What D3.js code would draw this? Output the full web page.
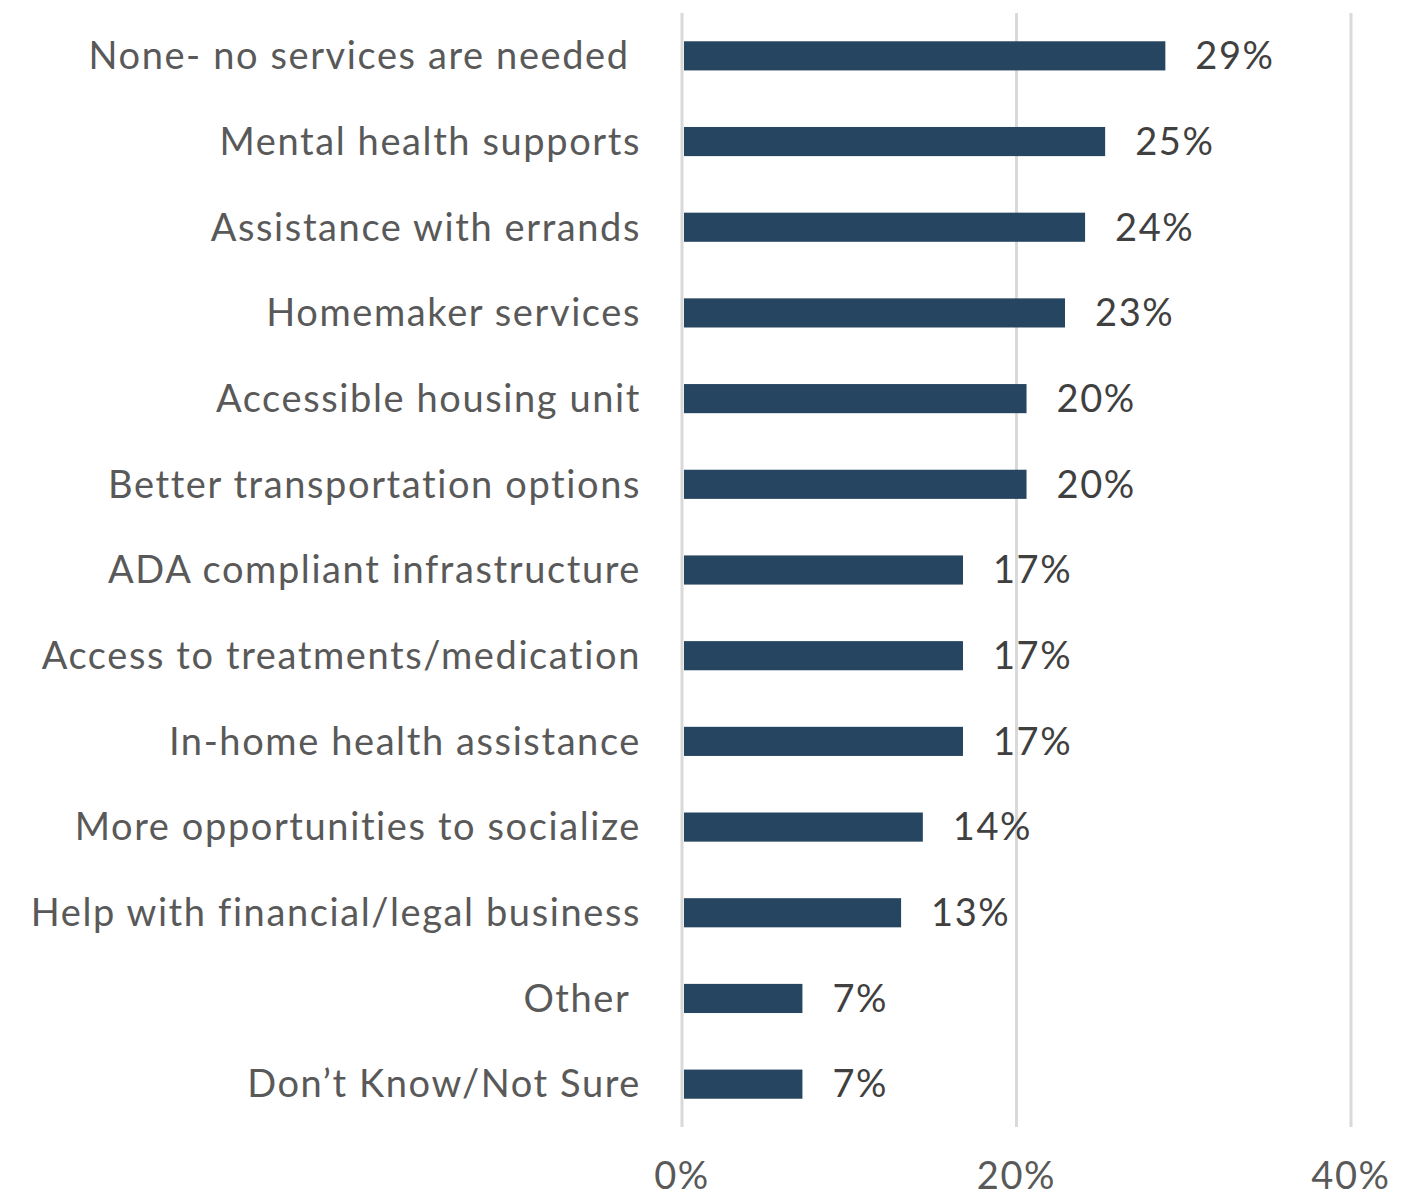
<!DOCTYPE html>
<html><head><meta charset="utf-8">
<script src="https://cdn.jsdelivr.net/npm/d3@7"></script>
<style>body{margin:0;background:#fff}svg{display:block}text{font-family:Lato,"Open Sans",sans-serif;letter-spacing:1.6px}</style>
</head><body><svg id="c" width="1418" height="1198"></svg>
<script>
const categories = ["None- no services are needed\u00a0","Mental health supports","Assistance with errands","Homemaker services","Accessible housing unit","Better transportation options","ADA compliant infrastructure","Access to treatments/medication","In-home health assistance","More opportunities to socialize","Help with financial/legal business","Other\u00a0","Don\u2019t Know/Not Sure"];
const values = [28.9,25.3,24.1,22.9,20.6,20.6,16.8,16.8,16.8,14.4,13.1,7.2,7.2];
const valueLabels = ["29%","25%","24%","23%","20%","20%","17%","17%","17%","14%","13%","7%","7%"];
const tickValues = [0,20,40];
const tickLabels = ["0%","20%","40%"];

const svg = d3.select("#c");
const x = d3.scaleLinear().domain([0,40]).range([682,1351]);
const y = d3.scaleBand().domain(categories).range([13,1127]).paddingInner(0.66).paddingOuter(0.33);

svg.append("g").selectAll("line").data(tickValues).join("line")
  .attr("x1",d=>x(d)).attr("x2",d=>x(d)).attr("y1",13).attr("y2",1127)
  .attr("stroke","#d9d9d9").attr("stroke-width",3);

svg.append("g").selectAll("rect").data(values).join("rect")
  .attr("x",x(0)+2).attr("y",(d,i)=>y(categories[i]))
  .attr("width",d=>x(d)-x(0)-2).attr("height",y.bandwidth())
  .attr("fill","#264561");

svg.append("g").selectAll("text").data(valueLabels).join("text")
  .attr("x",(d,i)=>x(values[i])+30).attr("y",(d,i)=>y(categories[i])+y.bandwidth()/2)
  .attr("dy","0.35em").attr("font-size",38).attr("fill","#404040").text(d=>d);

svg.append("g").selectAll("text").data(categories).join("text")
  .attr("x",641).attr("y",d=>y(d)+y.bandwidth()/2).attr("dy","0.35em")
  .attr("text-anchor","end").attr("font-size",38).attr("fill","#595959").text(d=>d);

svg.append("g").selectAll("text").data(tickValues).join("text")
  .attr("x",d=>x(d)).attr("y",1189).attr("text-anchor","middle")
  .attr("font-size",38).attr("fill","#595959").text((d,i)=>tickLabels[i]);
</script></body></html>
